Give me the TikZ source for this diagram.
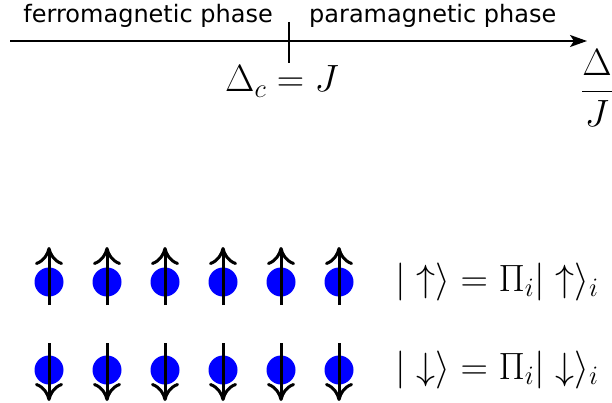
\RequirePackage{fix-cm}
\documentclass[tikz,border=0pt]{standalone}
\usepackage{fontspec}
\setsansfont{DejaVu Sans}
\usetikzlibrary{arrows.meta}
\tikzset{
  axisline/.style={line width=2pt,-{Stealth[length=17pt,width=12pt,inset=4pt]}},
  tickline/.style={line width=2pt},
  phaselabel/.style={font=\sffamily\fontsize{24}{28}\selectfont,inner sep=0pt},
  mathlabel/.style={font=\fontsize{38}{44}\selectfont,inner sep=0pt,anchor=base west},
  spinball/.style={circle,fill=blue,draw=none,minimum size=29pt,inner sep=0pt},
  spinarrow/.style={line width=3pt,-{Computer Modern Rightarrow[length=18pt,width=28pt,line width=3pt]}}
}
\begin{document}
\begin{tikzpicture}[x=1pt,y=-1pt]
\useasboundingbox (0,0) rectangle (612,403);
% axis
\coordinate (axstart) at (10,41);
\coordinate (axend) at (587,41);
\draw[axisline] (axstart) -- (axend);
\coordinate (ticktop) at (289,22);
\coordinate (tickbot) at (289,63);
\draw[tickline] (ticktop) -- (tickbot);
\node[phaselabel,anchor=base east] (ferro) at (273,23) {ferromagnetic phase};
\node[phaselabel,anchor=base west] (para) at (309,23) {paramagnetic phase};
\node[mathlabel] (crit) at (225,92) {$\Delta_c = J$};
\node[font=\fontsize{38}{44}\selectfont,inner sep=0pt] (ratio) at (597,88) {$\displaystyle\frac{\Delta}{J}$};
% spins
\foreach \i in {0,...,5} {
  \pgfmathsetmacro{\xx}{49+58*\i}
  \node[spinball] (up\i) at (\xx,282) {};
  \coordinate (upt\i) at (\xx,305);
  \coordinate (uph\i) at (\xx,247);
  \draw[spinarrow] (upt\i) -- (uph\i);
  \node[spinball] (dn\i) at (\xx,370) {};
  \coordinate (dnt\i) at (\xx,343);
  \coordinate (dnh\i) at (\xx,401);
  \draw[spinarrow] (dnt\i) -- (dnh\i);
}
\node[mathlabel] (upstate) at (395,291) {$|\uparrow\rangle = \Pi_i|\uparrow\rangle_i$};
\node[mathlabel] (dnstate) at (395,379) {$|\downarrow\rangle = \Pi_i|\downarrow\rangle_i$};
\end{tikzpicture}
\end{document}
